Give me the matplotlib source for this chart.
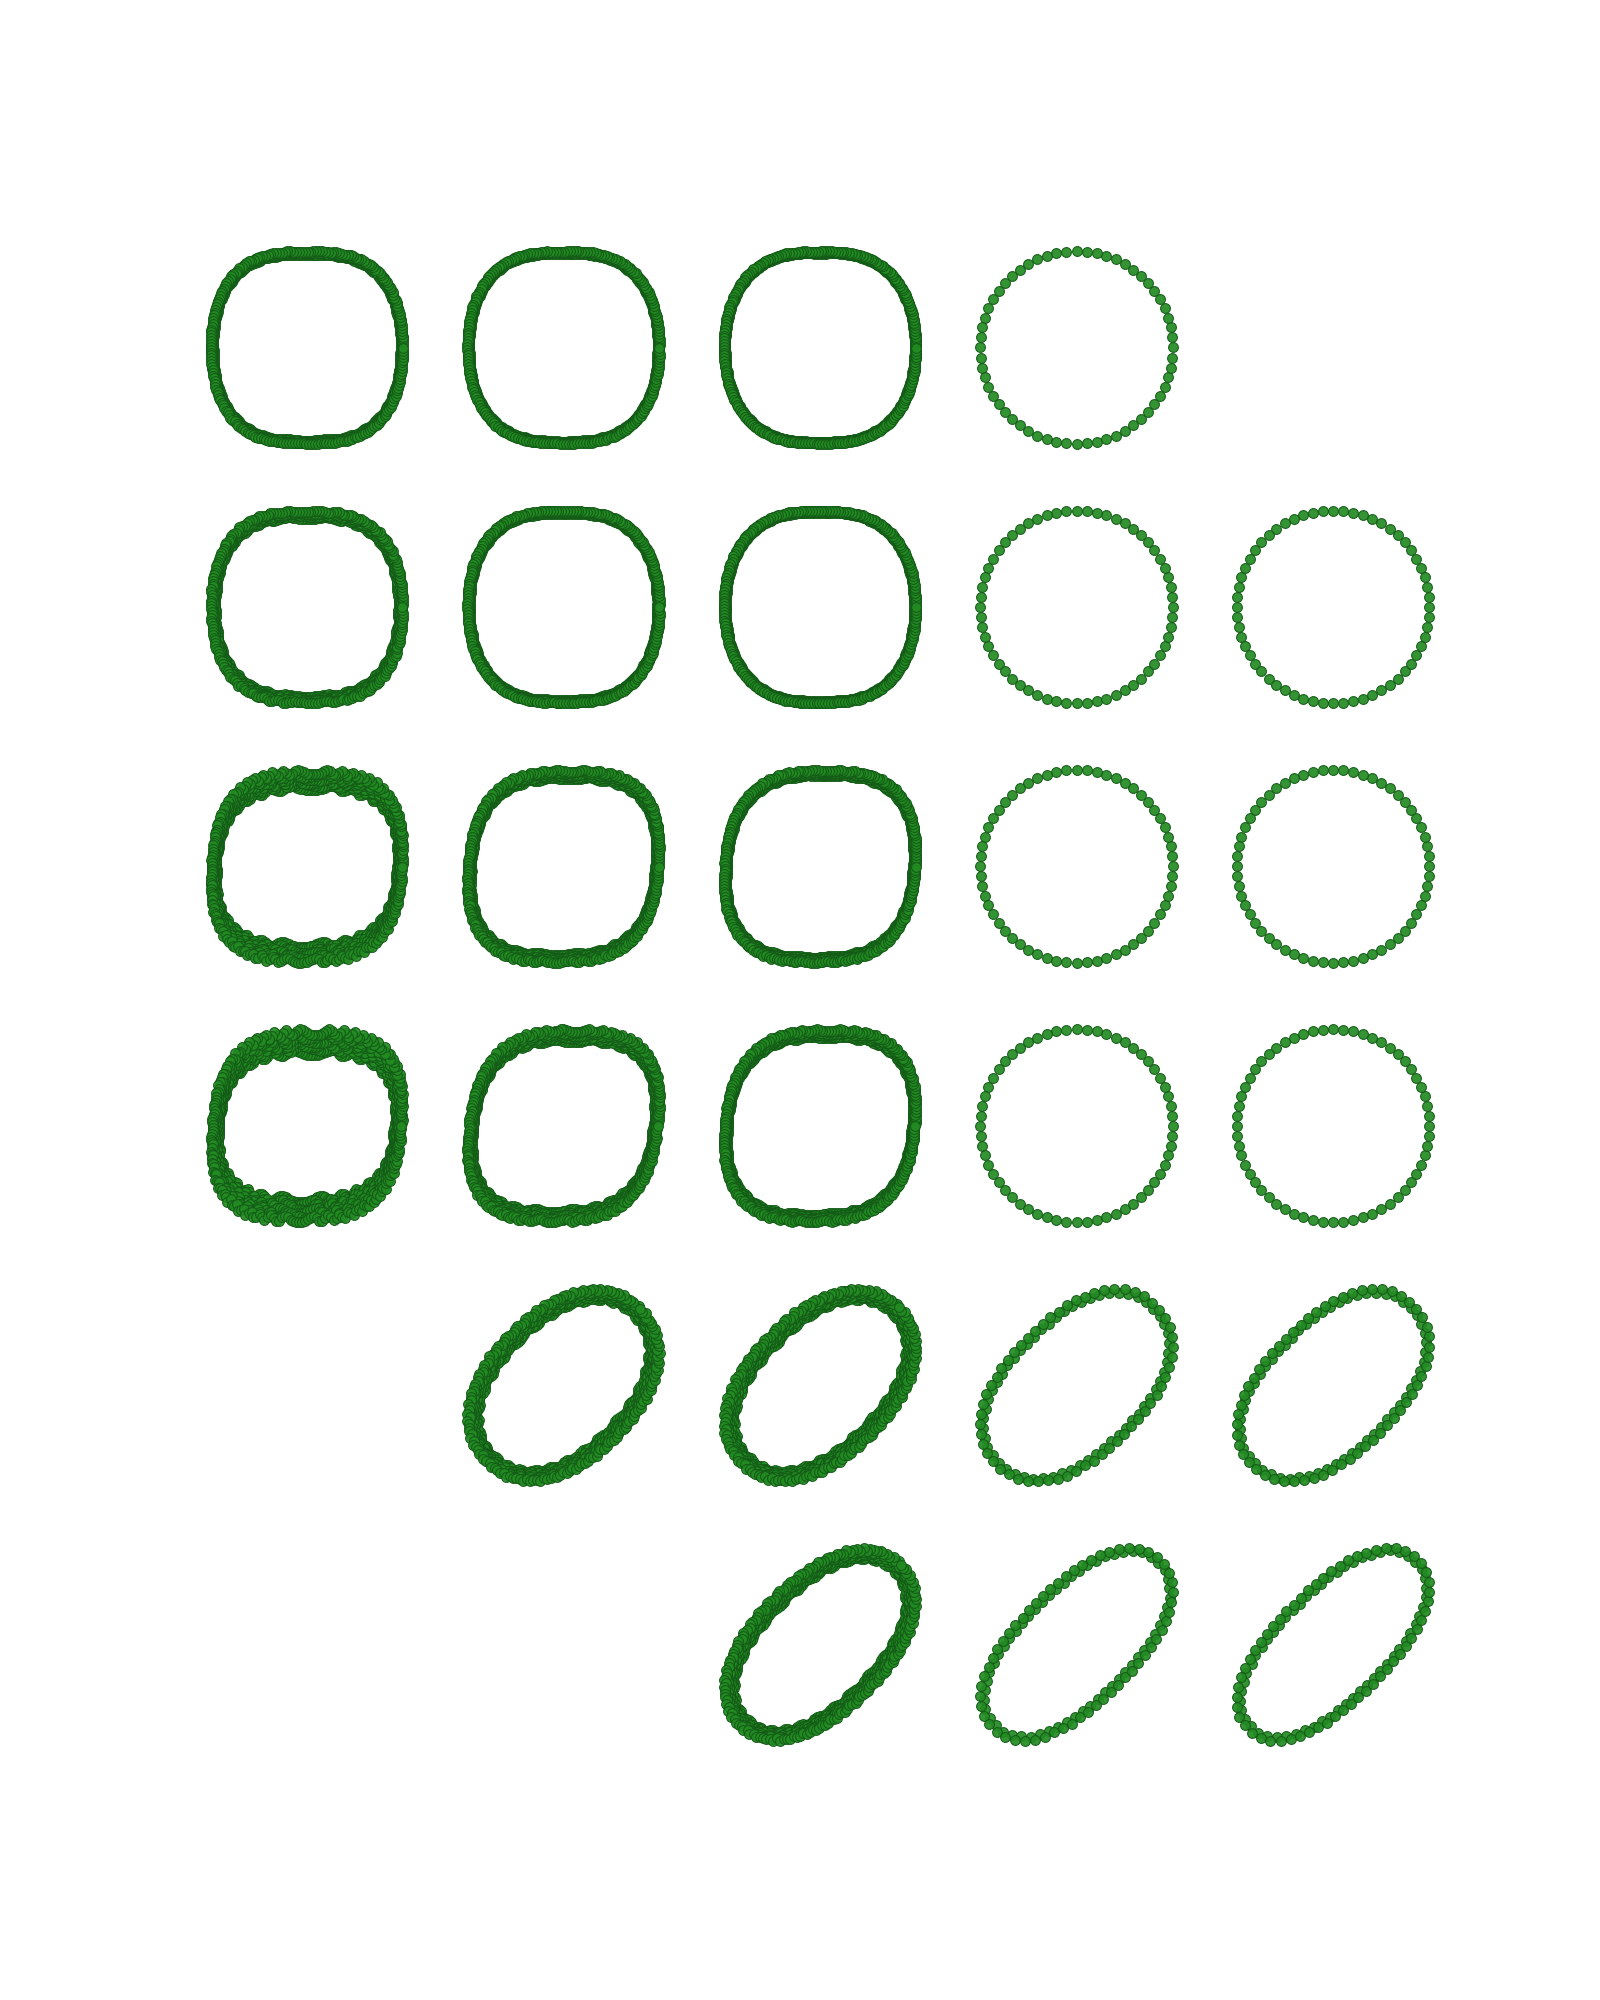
import numpy as np
import matplotlib.pyplot as plt

n_rows, n_cols = 6, 5

# which grid cells hold a ring
panel_row = [0, 0, 0, 0,
             1, 1, 1, 1, 1,
             2, 2, 2, 2, 2,
             3, 3, 3, 3, 3,
             4, 4, 4, 4,
             5, 5, 5]
panel_col = [0, 1, 2, 3,
             0, 1, 2, 3, 4,
             0, 1, 2, 3, 4,
             0, 1, 2, 3, 4,
             1, 2, 3, 4,
             2, 3, 4]

# points per strand / strands per ring
n_points = [220, 220, 220, 60,
            220, 220, 220, 60, 60,
            220, 220, 220, 60, 60,
            220, 220, 220, 60, 60,
            170, 170, 58, 58,
            170, 58, 58]
n_strands = [5, 5, 5, 1,
             5, 5, 5, 1, 1,
             6, 6, 6, 1, 1,
             6, 6, 6, 1, 1,
             6, 6, 2, 2,
             6, 2, 2]

# ring shape: superellipse exponents (sides / top-bottom), minor ratio, tilt, shear
exp_x = [3.0, 2.9, 2.8, 2.0,
         3.0, 2.9, 2.8, 2.0, 2.0,
         3.1, 3.0, 2.9, 2.0, 2.0,
         3.1, 3.0, 2.9, 2.0, 2.0,
         2.2, 2.2, 2.3, 2.3,
         2.2, 2.3, 2.3]
exp_y = [2.2, 2.15, 2.1, 2.0,
         2.2, 2.15, 2.1, 2.0, 2.0,
         2.6, 2.5, 2.4, 2.0, 2.0,
         2.6, 2.5, 2.4, 2.0, 2.0,
         2.2, 2.2, 2.3, 2.3,
         2.2, 2.3, 2.3]
minor_ratio = [1.0, 1.0, 1.0, 1.0,
               1.0, 1.0, 1.0, 1.0, 1.0,
               1.0, 1.0, 1.0, 1.0, 1.0,
               1.0, 1.0, 1.0, 1.0, 1.0,
               0.66, 0.62, 0.60, 0.58,
               0.56, 0.48, 0.46]
tilt_deg = [0, 0, 0, 0,
            0, 0, 0, 0, 0,
            0, 0, 0, 0, 0,
            0, 0, 0, 0, 0,
            45, 45, 45, 45,
            45, 45, 45]
shear = [0.0, 0.0, 0.0, 0.0,
         0.0, 0.0, 0.0, 0.0, 0.0,
         0.05, 0.07, 0.06, 0.0, 0.0,
         0.07, 0.11, 0.08, 0.0, 0.0,
         0.0, 0.0, 0.0, 0.0,
         0.0, 0.0, 0.0]

# ring thickness across the sides (x) and across top/bottom (y)
spread_x = [0.025, 0.02, 0.015, 0.0,
            0.045, 0.025, 0.02, 0.0, 0.0,
            0.05, 0.035, 0.025, 0.0, 0.0,
            0.07, 0.045, 0.03, 0.0, 0.0,
            0.08, 0.08, 0.03, 0.03,
            0.08, 0.03, 0.03]
spread_y = [0.035, 0.025, 0.02, 0.0,
            0.07, 0.03, 0.02, 0.0, 0.0,
            0.18, 0.08, 0.055, 0.0, 0.0,
            0.24, 0.11, 0.075, 0.0, 0.0,
            0.14, 0.14, 0.05, 0.05,
            0.14, 0.06, 0.06]

harmonics = [31, 43, 53, 37, 47, 59]


def ring(i):
    n, k_tot = n_points[i], n_strands[i]
    b = minor_ratio[i]
    ang = np.deg2rad(tilt_deg[i])
    # dense outline, then resampled at equal arc length
    tt = np.linspace(0, 2 * np.pi, 4001)
    cu = np.sign(np.cos(tt)) * np.abs(np.cos(tt)) ** (2 / exp_x[i])
    cv = b * np.sign(np.sin(tt)) * np.abs(np.sin(tt)) ** (2 / exp_y[i])
    arc = np.concatenate([[0], np.cumsum(np.hypot(np.diff(cu), np.diff(cv)))])
    xs, ys = [], []
    offsets = np.linspace(-1, 1, k_tot) if k_tot > 1 else [0.0]
    for k, c in enumerate(offsets):
        s = (np.arange(n) + k / k_tot) / n * arc[-1]
        t = np.interp(s, arc, tt)
        d = c + 0.3 * np.sin(harmonics[k] * t + 1.3 * k)
        u = np.interp(s, arc, cu) * (1 + spread_x[i] * d / 2)
        v = np.interp(s, arc, cv) * (1 + spread_y[i] * d / 2)
        u = u + shear[i] * v
        xs.append(u * np.cos(ang) - v * np.sin(ang))
        ys.append(u * np.sin(ang) + v * np.cos(ang))
    return np.concatenate(xs), np.concatenate(ys)


fig, axes = plt.subplots(n_rows, n_cols, figsize=(16, 20), dpi=100)
plt.subplots_adjust(left=0.1256, right=0.8994, top=0.87925, bottom=0.12475,
                    wspace=0.21, hspace=0.2236)

for ax in axes.flat:
    ax.axis('off')

for i in range(len(panel_row)):
    ax = axes[panel_row[i], panel_col[i]]
    x, y = ring(i)
    ax.scatter(x, y, s=50, facecolor='#228B22', edgecolor='#145a17',
               linewidths=0.8, alpha=0.92)

fig.savefig('out.png', dpi=100)
